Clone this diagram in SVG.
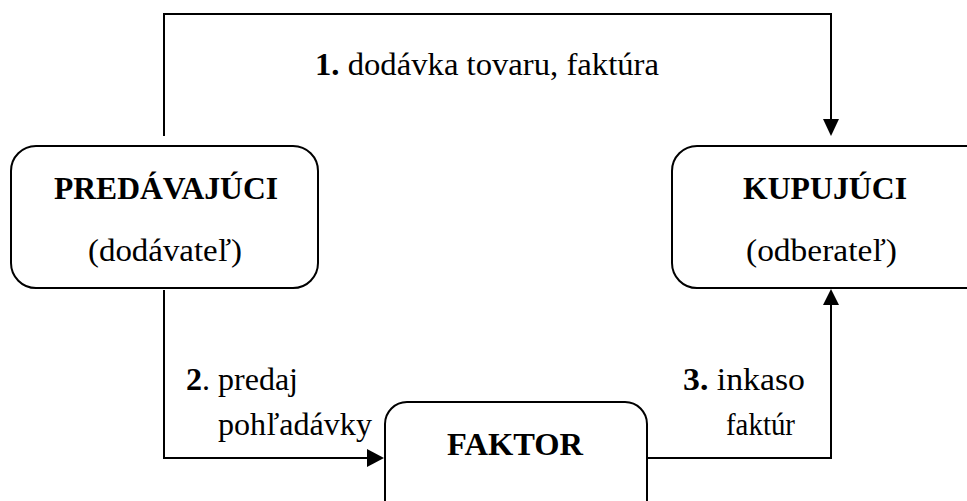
<svg xmlns="http://www.w3.org/2000/svg" width="967" height="501" viewBox="0 0 967 501">
<defs>
<style>
.box{fill:#fff;stroke:#000;stroke-width:2}
.ln{fill:none;stroke:#000;stroke-width:2}
.ah{fill:#000}
text{font-family:"Liberation Serif","Times New Roman",serif;fill:#000}
.t{font-size:32px}
.b{font-weight:bold}
.l{font-size:31.5px}
</style>
</defs>
<rect width="967" height="501" fill="#fff"/>
<g id="connectors">
<polyline class="ln" points="164,136 164,14 831,14 831,122"/>
<polygon class="ah" points="823,119 839,119 831,136"/>
<polyline class="ln" points="164,290 164,458 370,458"/>
<polygon class="ah" points="367,449 367,467 384,458"/>
<polyline class="ln" points="647,458 831,458 831,304"/>
<polygon class="ah" points="823,305 839,305 831,289"/>
<text class="l" x="315" y="75" textLength="344" lengthAdjust="spacingAndGlyphs"><tspan class="b">1.</tspan>  dodávka tovaru, faktúra</text>
<text class="l" x="186" y="390" textLength="112" lengthAdjust="spacingAndGlyphs"><tspan class="b">2</tspan>. predaj</text>
<text class="l" x="218" y="435" textLength="154" lengthAdjust="spacingAndGlyphs">pohľadávky</text>
<text class="l" x="683" y="390" textLength="122" lengthAdjust="spacingAndGlyphs"><tspan class="b">3.</tspan>  inkaso</text>
<text class="l" x="726" y="435" textLength="69" lengthAdjust="spacingAndGlyphs">faktúr</text>
</g>
<g id="predavajuci">
<rect class="box" x="11" y="146" width="307" height="142" rx="25"/>
<text class="t b" x="54" y="199" textLength="224" lengthAdjust="spacingAndGlyphs">PREDÁVAJÚCI</text>
<text class="t" x="88" y="261" textLength="154" lengthAdjust="spacingAndGlyphs">(dodávateľ)</text>
</g>
<g id="kupujuci">
<rect class="box" x="672" y="146" width="330" height="142" rx="25"/>
<text class="t b" x="743" y="199" textLength="164" lengthAdjust="spacingAndGlyphs">KUPUJÚCI</text>
<text class="t" x="746" y="261" textLength="151" lengthAdjust="spacingAndGlyphs">(odberateľ)</text>
</g>
<g id="faktor">
<rect class="box" x="385" y="402" width="262" height="130" rx="22"/>
<text class="t b" x="447" y="455" textLength="136" lengthAdjust="spacingAndGlyphs">FAKTOR</text>
</g>
</svg>
